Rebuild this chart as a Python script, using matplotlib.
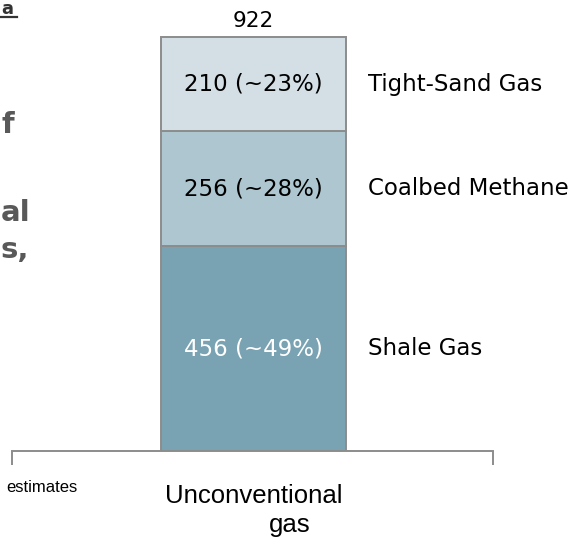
import matplotlib
matplotlib.use("Agg")
import matplotlib.pyplot as plt

W, H = 572, 540

# ---------------------------------------------------------------------
# data
# ---------------------------------------------------------------------
category = ["Unconventional", "gas"]
segments = ["Shale Gas", "Coalbed Methane", "Tight-Sand Gas"]
values = [456, 256, 210]
pct_labels = ["456 (~49%)", "256 (~28%)", "210 (~23%)"]
total = sum(values)
colors = ["#79a3b3", "#adc6cf", "#d3dfe5"]
text_colors = ["white", "black", "black"]


def fx(px):
    return px / W


def fy(py):
    return 1 - py / H


fig = plt.figure(figsize=(W / 100, H / 100), dpi=100)
ax = fig.add_axes([fx(12), fy(451), fx(493) - fx(12), 449 / H])

bar_c, bar_w = 253.5, 185.0
xlim = (-(bar_c - 12) / bar_w, (493 - bar_c) / bar_w)
ax.set_xlim(*xlim)
ax.set_ylim(0, 1000)

bottom = 0
for seg, v, lab, c, tc in zip(segments, values, pct_labels, colors, text_colors):
    ax.bar(0, v, width=1.0, bottom=bottom, color=c, edgecolor="#8c8c8c", linewidth=1.4)
    mid = bottom + v / 2
    ax.text(0, mid, lab, ha="center", va="center", fontsize=16.5, color=tc,
            family="DejaVu Sans")
    ax.text(0.62, mid, seg, ha="left", va="center", fontsize=16.5,
            color="black", family="DejaVu Sans")
    bottom += v

ax.text(0, total + 14, f"{total}", ha="center", va="bottom", fontsize=15.5,
        family="DejaVu Sans")

for s in ["top", "right", "left"]:
    ax.spines[s].set_visible(False)
ax.spines["bottom"].set_color("#8c8c8c")
ax.spines["bottom"].set_linewidth(1.4)
ax.set_yticks([])
ax.set_xticks(list(xlim))
ax.set_xticklabels([])
ax.tick_params(axis="x", direction="out", length=10, width=1.4, color="#8c8c8c")

# category label (two lines, as in the slide)
fig.text(fx(254), fy(503), category[0], ha="center", va="baseline", fontsize=18.5,
         family="Liberation Sans")
fig.text(fx(290), fy(532), category[1], ha="center", va="baseline", fontsize=18.5,
         family="Liberation Sans")

# fragments of slide text at the left edge
fig.text(fx(6), fy(487), "estimates", ha="left", va="center", fontsize=12,
         family="Liberation Sans")
fig.text(fx(1), fy(14), "a", ha="left", va="baseline", fontsize=13, color="#333333",
         family="DejaVu Sans", fontweight="bold")
fig.add_artist(plt.Line2D([fx(0), fx(17)], [fy(16.5), fy(16.5)], color="#333333", lw=1.6))
bold = dict(ha="left", va="center", fontsize=21, color="#595959",
            family="DejaVu Sans", fontweight="bold")
fig.text(fx(1), fy(125), "f", **bold)
fig.text(fx(1), fy(213), "al", **bold)
fig.text(fx(1), fy(250), "s,", **bold)

fig.savefig("out.png", dpi=100)
